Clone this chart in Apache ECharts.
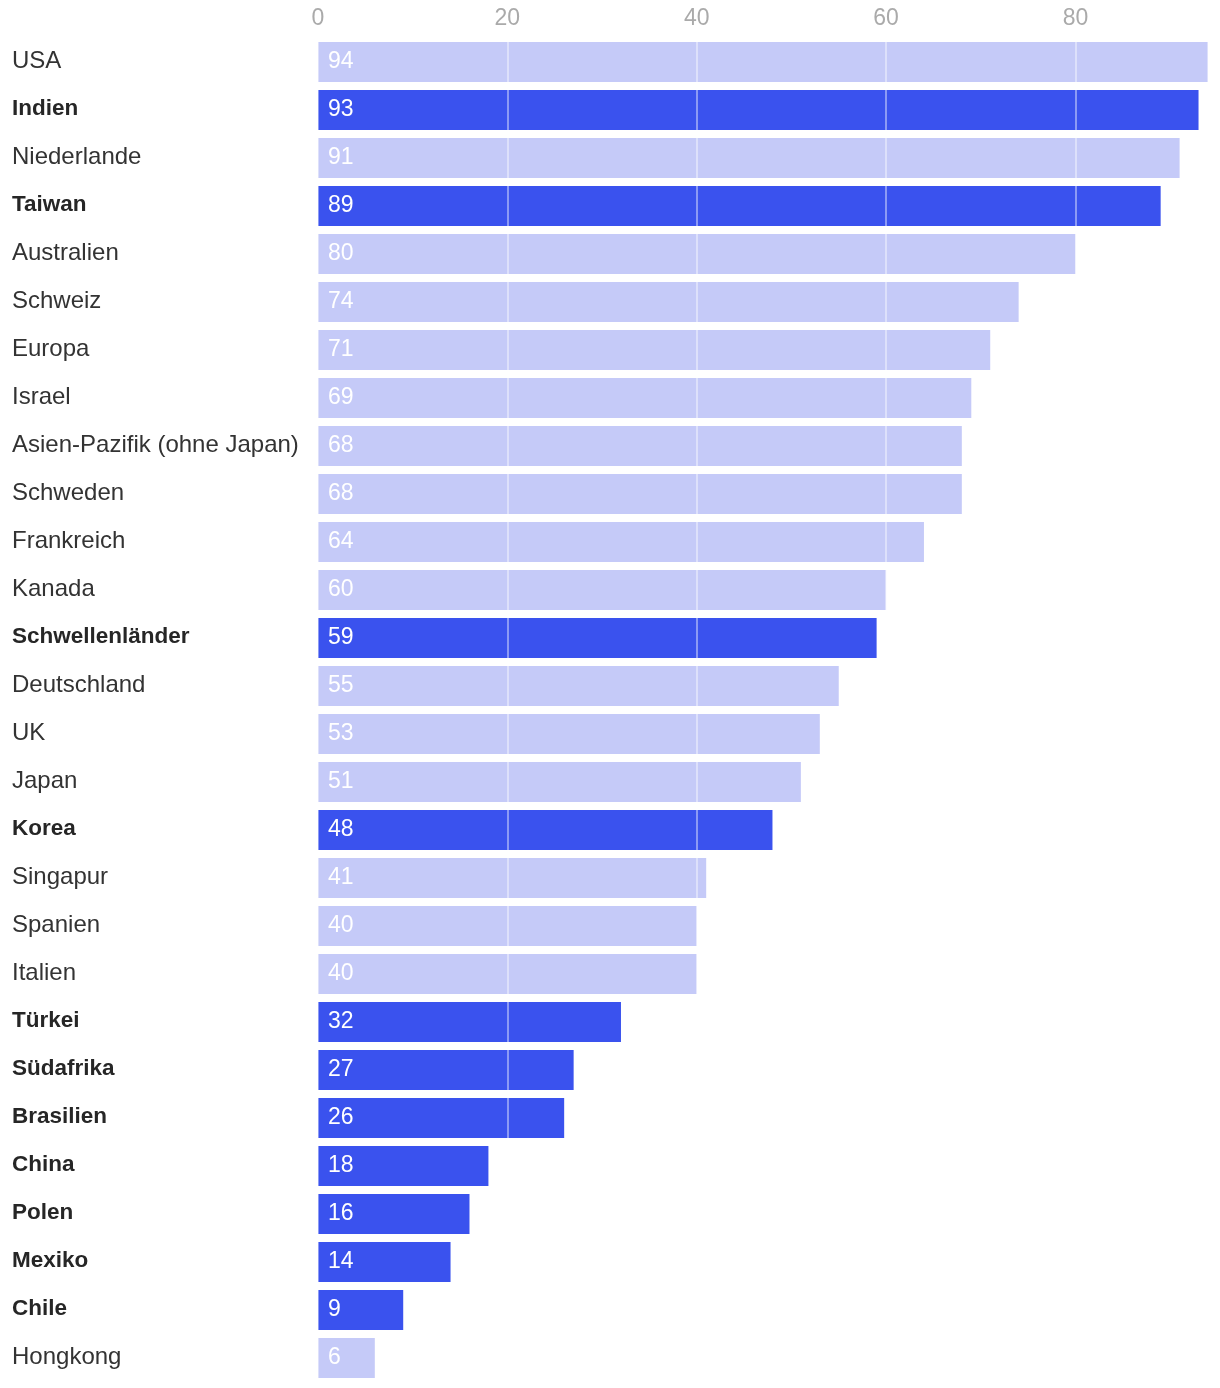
<!DOCTYPE html>
<html>
<head>
<meta charset="utf-8">
<script src="https://cdn.jsdelivr.net/npm/echarts@6/dist/echarts.min.js"></script>
<style>html,body{margin:0;padding:0;background:#fff}#c{width:1220px;height:1388px}</style>
</head>
<body>
<div id="c"></div>
<script>
const categories = ["USA","Indien","Niederlande","Taiwan","Australien","Schweiz","Europa","Israel","Asien-Pazifik (ohne Japan)","Schweden","Frankreich","Kanada","Schwellenländer","Deutschland","UK","Japan","Korea","Singapur","Spanien","Italien","Türkei","Südafrika","Brasilien","China","Polen","Mexiko","Chile","Hongkong"];
const values = [94,93,91,89,80,74,71,69,68,68,64,60,59,55,53,51,48,41,40,40,32,27,26,18,16,14,9,6];
const highlighted = ["Indien","Taiwan","Schwellenländer","Korea","Türkei","Südafrika","Brasilien","China","Polen","Mexiko","Chile"];
const xTicks = [0,20,40,60,80];

const DARK = '#3a52ee', LIGHT = '#c5caf8';
const FONT = 'Liberation Sans, Arial, sans-serif';
const chart = echarts.init(document.getElementById('c'));
chart.setOption({
  animation: false,
  grid: {left: 318, right: 12, top: 38, bottom: 6},
  xAxis: {
    type: 'value', position: 'top', min: 0, max: 94, interval: 20,
    z: 5,
    axisLine: {show: false}, axisTick: {show: false},
    axisLabel: {color: '#aaa', fontSize: 23, fontFamily: FONT, margin: 8,
      formatter: v => xTicks.includes(v) ? String(v) : ''},
    splitLine: {show: true, lineStyle: {color: 'rgba(255,255,255,0.42)', width: 2}}
  },
  yAxis: {
    type: 'category', inverse: true, data: categories,
    axisLine: {show: false}, axisTick: {show: false},
    axisLabel: {
      align: 'left', margin: 306, fontSize: 24, fontFamily: FONT, color: '#333',
      formatter: v => highlighted.includes(v) ? '{b|' + v + '}' : '{r|' + v + '}',
      rich: {
        r: {fontSize: 24, fontFamily: FONT, color: '#333', padding: [0, 0, 2, 0]},
        b: {fontWeight: 'bold', fontSize: 22.5, fontFamily: FONT, color: '#262626', padding: [0, 0, 2, 0]}
      }
    }
  },
  series: [{
    type: 'bar', z: 2,
    barWidth: 40,
    data: values.map((v, i) => ({value: v, itemStyle: {color: highlighted.includes(categories[i]) ? DARK : LIGHT}})),
    label: {show: true, position: 'insideLeft', distance: 10, color: '#fff', fontSize: 23, fontFamily: FONT,
      padding: [0, 0, 2, 0]}
  }]
});
</script>
</body>
</html>
